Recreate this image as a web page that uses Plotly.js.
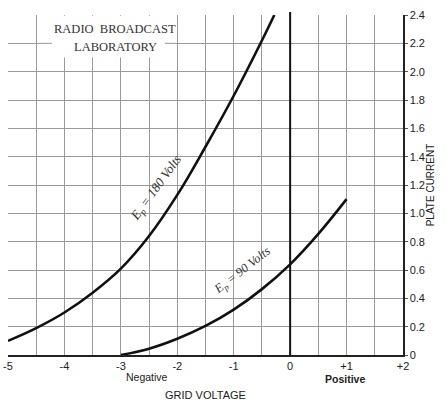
<!DOCTYPE html>
<html>
<head>
<meta charset="utf-8">
<script src="https://cdn.plot.ly/plotly-3.0.1.min.js"></script>
<style>
html,body{margin:0;padding:0;background:#fff;}
#chart{width:447px;height:401px;}
</style>
</head>
<body>
<div id="chart"></div>
<script>
// Grid voltage (x) and plate current (y)
const gridVoltage180 = [-5, -4.5, -4, -3.5, -3, -2.5, -2, -1.5, -1, -0.5, -0.28];
const plateCurrent180 = [0.10, 0.19, 0.30, 0.44, 0.61, 0.84, 1.13, 1.47, 1.83, 2.22, 2.40];

const gridVoltage90 = [-3, -2.5, -2, -1.5, -1, -0.5, 0, 0.5, 1.0];
const plateCurrent90 = [0, 0.045, 0.115, 0.205, 0.32, 0.465, 0.64, 0.855, 1.10];

const xTickVals = [-5, -4, -3, -2, -1, 0, 1, 2];
const xTickText = ['-5', '-4', '-3', '-2', '-1', '0', '+1', '+2'];
const yTickVals = [0, 0.2, 0.4, 0.6, 0.8, 1.0, 1.2, 1.4, 1.6, 1.8, 2.0, 2.2, 2.4];
const yTickText = ['0', '0.2', '0.4', '0.6', '0.8', '1.0', '1.2', '1.4', '1.6', '1.8', '2.0', '2.2', '2.4'];

const sansFont = 'Liberation Sans Narrow, Liberation Sans, Arial, sans-serif';
const serifFont = 'Liberation Serif, DejaVu Serif, serif';
const gridCol = '#9a9a9a';

const traces = [
  {
    x: gridVoltage180, y: plateCurrent180, name: 'Ep = 180 Volts',
    mode: 'lines', line: {color: '#111', width: 2.6, shape: 'spline', smoothing: 1.1},
    hoverinfo: 'x+y'
  },
  {
    x: gridVoltage90, y: plateCurrent90, name: 'Ep = 90 Volts',
    mode: 'lines', line: {color: '#111', width: 2.6, shape: 'spline', smoothing: 1.1},
    hoverinfo: 'x+y'
  }
];

const layout = {
  width: 447, height: 401,
  margin: {l: 8, r: 44, t: 15, b: 46},
  paper_bgcolor: '#fff', plot_bgcolor: '#fff',
  showlegend: false,
  font: {family: sansFont, color: '#222', size: 11},
  xaxis: {
    range: [-5, 2],
    tickvals: xTickVals, ticktext: xTickText,
    showgrid: true, gridcolor: gridCol, gridwidth: 1,
    minor: {dtick: 0.5, tick0: -5, showgrid: true, gridcolor: gridCol, gridwidth: 1},
    zeroline: false,
    showline: true, linecolor: '#222', linewidth: 1.5,
    ticks: '',
    tickfont: {family: sansFont, size: 11, color: '#222'},
    title: {text: 'GRID VOLTAGE', font: {family: sansFont, size: 11, color: '#222'}, standoff: 22},
    fixedrange: true
  },
  yaxis: {
    side: 'right',
    range: [0, 2.4],
    tickvals: yTickVals, ticktext: yTickText,
    showgrid: true, gridcolor: gridCol, gridwidth: 1,
    zeroline: false,
    showline: true, linecolor: '#222', linewidth: 1.5,
    ticks: 'outside', ticklen: 3, tickcolor: '#555',
    tickfont: {family: sansFont, size: 11, color: '#222'},
    title: {text: 'PLATE CURRENT', font: {family: sansFont, size: 10, color: '#222'}, standoff: 0},
    fixedrange: true
  },
  shapes: [
    // white label box over the grid
    {type: 'rect', xref: 'x', yref: 'y', x0: -4.45, x1: -2.03, y0: 2.10, y1: 2.395,
     fillcolor: '#fff', line: {width: 0}, layer: 'between'},
    {type: 'line', xref: 'x', yref: 'y', x0: -4.46, x1: -4.22, y0: 2.2, y1: 2.2,
     line: {color: gridCol, width: 1}, layer: 'between'},
    {type: 'line', xref: 'x', yref: 'y', x0: -2.22, x1: -2.02, y0: 2.2, y1: 2.2,
     line: {color: gridCol, width: 1}, layer: 'between'},
    // heavy zero-grid-voltage line
    {type: 'line', xref: 'x', yref: 'paper', x0: 0, x1: 0, y0: 0, y1: 1.009,
     line: {color: '#111', width: 2}, layer: 'above'}
  ],
  annotations: [
    {xref: 'x', yref: 'y', x: -3.1, y: 2.30, text: 'RADIO&nbsp;&nbsp;BROADCAST', showarrow: false,
     font: {family: serifFont, size: 12.5, color: '#333'}},
    {xref: 'x', yref: 'y', x: -3.1, y: 2.175, text: 'LABORATORY', showarrow: false,
     font: {family: serifFont, size: 12.5, color: '#333'}},
    {xref: 'x', yref: 'y', x: -2.36, y: 1.18, text: '<i>E<sub>p</sub> = 180 Volts</i>', showarrow: false,
     textangle: -54, font: {family: serifFont, size: 13, color: '#333'}},
    {xref: 'x', yref: 'y', x: -0.84, y: 0.59, text: '<i>E<sub>p</sub> = 90 Volts</i>', showarrow: false,
     textangle: -38, font: {family: serifFont, size: 12.5, color: '#333'}},
    {xref: 'x', yref: 'paper', x: -2.54, y: -0.066, yanchor: 'middle', text: 'Negative', showarrow: false,
     font: {family: sansFont, size: 10.5, color: '#222'}},
    {xref: 'x', yref: 'paper', x: 0.97, y: -0.07, yanchor: 'middle', text: '<b>Positive</b>', showarrow: false,
     font: {family: sansFont, size: 10.5, color: '#222'}}
  ]
};

Plotly.newPlot('chart', traces, layout, {displayModeBar: false, staticPlot: true});
</script>
</body>
</html>
